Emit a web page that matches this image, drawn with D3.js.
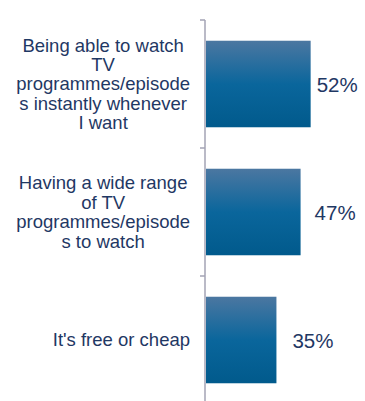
<!DOCTYPE html>
<html>
<head>
<meta charset="utf-8">
<script src="https://cdn.jsdelivr.net/npm/d3@7"></script>
<style>
  html, body { margin: 0; padding: 0; background: #ffffff; }
  svg { display: block; }
  text { font-family: "Liberation Sans", Arial, sans-serif; fill: #1f3864; }
</style>
</head>
<body>
<svg id="chart" width="365" height="401"></svg>
<script>
// Reasons for watching: share of respondents
const categories = [
  ["Being able to watch", "TV", "programmes/episode", "s instantly whenever", "I want"],
  ["Having a wide range", "of TV", "programmes/episode", "s to watch"],
  ["It's free or cheap"]
];
const values = [52, 47, 35];
const valueLabels = ["52%", "47%", "35%"];

// Layout: gap between each bar end and its value label
const labelGap = [6, 14, 16];

const svg = d3.select("#chart");
const axisX = 205;

const y = d3.scaleBand()
  .domain(d3.range(categories.length))
  .range([20, 404])
  .paddingInner(0.324)
  .paddingOuter(0.162);

const x = d3.scaleLinear().domain([0, 80]).range([206, 367]);

// Bar fill gradient
const defs = svg.append("defs");
const grad = defs.append("linearGradient")
  .attr("id", "barGrad").attr("x1", 0).attr("y1", 0).attr("x2", 0).attr("y2", 1);
grad.append("stop").attr("offset", "0%").attr("stop-color", "#4b77a1");
grad.append("stop").attr("offset", "50%").attr("stop-color", "#0a669c");
grad.append("stop").attr("offset", "100%").attr("stop-color", "#015a8c");

// Bars
svg.append("g").selectAll("rect")
  .data(values)
  .join("rect")
  .attr("x", x(0))
  .attr("y", (d, i) => y(i))
  .attr("width", d => x(d) - x(0))
  .attr("height", y.bandwidth())
  .attr("fill", "url(#barGrad)");

// Category axis line and tick marks at band boundaries
const step = y.step();
const bounds = d3.range(categories.length + 1).map(i => y.range()[0] + i * step);
const axisG = svg.append("g").attr("stroke", "#a3a3b5").attr("stroke-width", 1.5);
axisG.append("line")
  .attr("x1", axisX).attr("x2", axisX)
  .attr("y1", bounds[0]).attr("y2", bounds[bounds.length - 1]);
axisG.selectAll("line.tick")
  .data(bounds)
  .join("line")
  .attr("class", "tick")
  .attr("x1", axisX - 5).attr("x2", axisX)
  .attr("y1", d => d).attr("y2", d => d);

// Category labels: centred lines inside a box right-aligned near the axis
const fontSize = 18.5;
const lineH = 19.4;
const labelRight = 190;
const labelG = svg.append("g");
categories.forEach((lines, i) => {
  const cy = y(i) + y.bandwidth() / 2;
  const t = labelG.append("text")
    .attr("font-size", fontSize)
    .attr("text-anchor", "middle");
  const spans = t.selectAll("tspan")
    .data(lines)
    .join("tspan")
    .attr("y", (d, k) => cy + (k - (lines.length - 1) / 2) * lineH + fontSize * 0.35)
    .text(d => d);
  const maxW = d3.max(spans.nodes(), n => n.getComputedTextLength());
  spans.attr("x", labelRight - maxW / 2);
});

// Value labels
svg.append("g").selectAll("text")
  .data(values)
  .join("text")
  .attr("x", (d, i) => x(d) + labelGap[i])
  .attr("y", (d, i) => y(i) + y.bandwidth() / 2 + 8)
  .attr("font-size", 20.5)
  .text((d, i) => valueLabels[i]);
</script>
</body>
</html>
